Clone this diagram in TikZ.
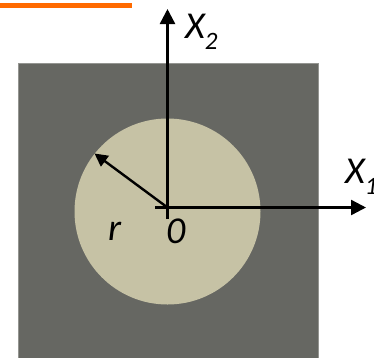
\documentclass[tikz,border=0pt]{standalone}
\usepackage{fontspec}
\setmainfont{Carlito}
\usepackage{tikz}
\usetikzlibrary{arrows.meta}
\definecolor{platecol}{HTML}{666762}
\definecolor{holecol}{HTML}{C6C2A5}
\definecolor{barcol}{HTML}{FF6A00}
\tikzset{
  plate/.style={fill=platecol,draw=platecol!70!white,line width=0.6pt},
  hole/.style={fill=holecol,draw=none},
  axisarrow/.style={-{Triangle[width=15pt,length=15pt]},line width=2.4pt},
  radiusarrow/.style={-{Triangle[width=13pt,length=13pt]},line width=2.4pt},
  axislabel/.style={anchor=base west,inner sep=0pt,font=\fontsize{38}{38}\selectfont\itshape}
}
\newcommand{\subidx}[1]{\raisebox{-11pt}{\fontsize{25}{25}\selectfont #1}}

\begin{document}
\begin{tikzpicture}[x=1pt,y=-1pt]
  \useasboundingbox (0,0) rectangle (374,357);
  \draw[barcol,line width=5pt] (0,5.3)--(132,5.3);
  \path[plate] (18,63) rectangle (318,362);
  \path[hole] (167.5,211.5) circle (93);
  \coordinate (O) at (167.5,207.5);
  \coordinate (xstart) at (155,207.5);
  \coordinate (xend) at (366,207.5);
  \coordinate (ystart) at (167.5,219);
  \coordinate (yend) at (167.5,9);
  \coordinate (rim) at (94.5,153.5);
  \draw[axisarrow] (xstart)--(xend);
  \draw[axisarrow] (ystart)--(yend);
  \draw[radiusarrow] (O)--(rim);
  \node[axislabel] (lbltwo) at (185,38) {X\subidx{2}};
  \node[axislabel] (lblone) at (345,183) {X\subidx{1}};
  \node[axislabel] (lblr) at (108,240) {r};
  \node[axislabel] (lblo) at (166,243) {0};
\end{tikzpicture}
\end{document}
